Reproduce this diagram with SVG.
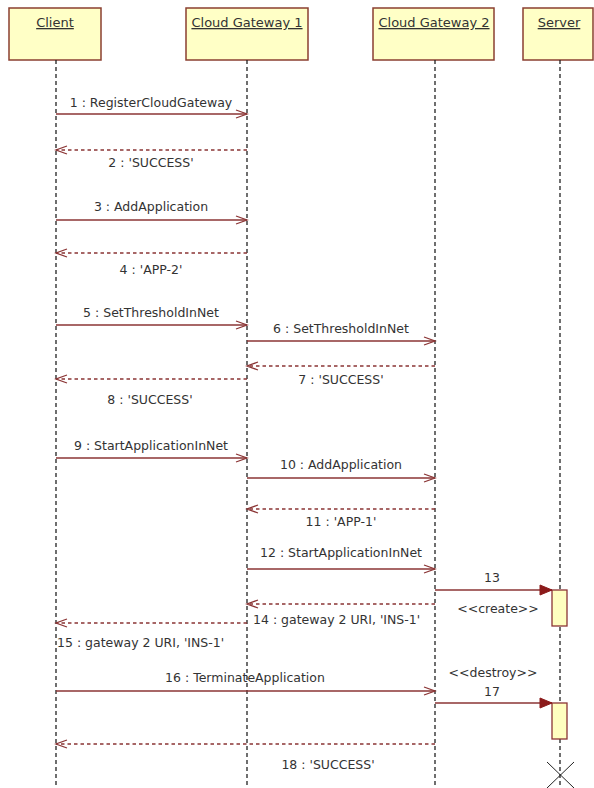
<svg xmlns="http://www.w3.org/2000/svg" width="594" height="788" viewBox="0 0 594 788">
<defs>
<style>
.hdr{fill:#ffffc6;stroke:#8a3f30;stroke-width:1.5}
.htxt{font-family:"DejaVu Sans","Liberation Sans",sans-serif;font-size:13px;fill:#333;text-anchor:middle;text-decoration:underline}
.life{stroke:#222;stroke-width:1.3;stroke-dasharray:4 3;fill:none}
.msg{stroke:#8b3535;stroke-width:1.3;fill:none}
.ret{stroke:#8b3535;stroke-width:1.3;fill:none;stroke-dasharray:3.5 3}
.lbl{font-family:"DejaVu Sans","Liberation Sans",sans-serif;font-size:12.5px;fill:#333;text-anchor:middle}
.st{text-anchor:start}
.act{fill:#ffffc0;stroke:#8b3535;stroke-width:1.3}
</style>
<marker id="open" markerWidth="14" markerHeight="12" refX="12" refY="5" orient="auto" markerUnits="userSpaceOnUse">
<path d="M1,1 L12,5 L1,9" fill="none" stroke="#8b3535" stroke-width="1.3"/>
</marker>
<marker id="filled" markerWidth="14" markerHeight="12" refX="13" refY="6" orient="auto" markerUnits="userSpaceOnUse">
<path d="M1,1 L13,6 L1,11 Z" fill="#8b1a1a" stroke="#8b1a1a" stroke-width="1"/>
</marker>
</defs>
<rect width="594" height="788" fill="#fff"/>

<g id="client">
<rect class="hdr" x="9" y="8" width="92" height="52"/>
<text class="htxt" x="55" y="27">Client</text>
<line class="life" x1="56" y1="60" x2="56" y2="788"/>
</g>
<g id="cg1">
<rect class="hdr" x="186" y="8" width="122" height="52"/>
<text class="htxt" x="247" y="27">Cloud Gateway 1</text>
<line class="life" x1="247" y1="60" x2="247" y2="788"/>
</g>
<g id="cg2">
<rect class="hdr" x="373" y="8" width="121" height="52"/>
<text class="htxt" x="434" y="27">Cloud Gateway 2</text>
<line class="life" x1="435" y1="60" x2="435" y2="788"/>
</g>
<g id="server">
<rect class="hdr" x="523" y="8" width="70" height="52"/>
<text class="htxt" x="559" y="27">Server</text>
<line class="life" x1="560" y1="60" x2="560" y2="788"/>
<rect class="act" x="552" y="590" width="15" height="36"/>
<rect class="act" x="552" y="703" width="15" height="36"/>
<path d="M547,762 L574,788 M574,762 L547,788" stroke="#222" stroke-width="1"/>
</g>

<g id="connectors">
<line class="msg" x1="56" y1="114" x2="247" y2="114" marker-end="url(#open)"/>
<line class="ret" x1="247" y1="150" x2="56" y2="150" marker-end="url(#open)"/>
<line class="msg" x1="56" y1="220" x2="247" y2="220" marker-end="url(#open)"/>
<line class="ret" x1="247" y1="253" x2="56" y2="253" marker-end="url(#open)"/>
<line class="msg" x1="56" y1="325" x2="247" y2="325" marker-end="url(#open)"/>
<line class="msg" x1="247" y1="341" x2="435" y2="341" marker-end="url(#open)"/>
<line class="ret" x1="435" y1="366" x2="247" y2="366" marker-end="url(#open)"/>
<line class="ret" x1="247" y1="379" x2="56" y2="379" marker-end="url(#open)"/>
<line class="msg" x1="56" y1="458" x2="247" y2="458" marker-end="url(#open)"/>
<line class="msg" x1="247" y1="478" x2="435" y2="478" marker-end="url(#open)"/>
<line class="ret" x1="435" y1="509" x2="247" y2="509" marker-end="url(#open)"/>
<line class="msg" x1="247" y1="569" x2="435" y2="569" marker-end="url(#open)"/>
<line class="msg" x1="435" y1="590" x2="552" y2="590" marker-end="url(#filled)"/>
<line class="ret" x1="435" y1="604" x2="247" y2="604" marker-end="url(#open)"/>
<line class="ret" x1="247" y1="623" x2="56" y2="623" marker-end="url(#open)"/>
<line class="msg" x1="56" y1="691" x2="435" y2="691" marker-end="url(#open)"/>
<line class="msg" x1="435" y1="703" x2="552" y2="703" marker-end="url(#filled)"/>
<line class="ret" x1="435" y1="744" x2="56" y2="744" marker-end="url(#open)"/>

<text class="lbl" x="151" y="107">1 : RegisterCloudGateway</text>
<text class="lbl" x="151" y="167">2 : 'SUCCESS'</text>
<text class="lbl" x="151" y="211">3 : AddApplication</text>
<text class="lbl" x="151" y="274">4 : 'APP-2'</text>
<text class="lbl" x="151" y="317">5 : SetThresholdInNet</text>
<text class="lbl" x="341" y="333">6 : SetThresholdInNet</text>
<text class="lbl" x="341" y="384">7 : 'SUCCESS'</text>
<text class="lbl" x="150" y="404">8 : 'SUCCESS'</text>
<text class="lbl" x="151" y="450">9 : StartApplicationInNet</text>
<text class="lbl" x="341" y="469">10 : AddApplication</text>
<text class="lbl" x="341" y="526">11 : 'APP-1'</text>
<text class="lbl" x="341" y="557">12 : StartApplicationInNet</text>
<text class="lbl" x="492" y="582">13</text>
<text class="lbl" x="498" y="613">&lt;&lt;create&gt;&gt;</text>
<text class="lbl st" x="253" y="624">14 : gateway 2 URI, 'INS-1'</text>
<text class="lbl st" x="57" y="647">15 : gateway 2 URI, 'INS-1'</text>
<text class="lbl" x="245" y="682">16 : TerminateApplication</text>
<text class="lbl" x="493" y="677">&lt;&lt;destroy&gt;&gt;</text>
<text class="lbl" x="492" y="696">17</text>
<text class="lbl" x="328" y="769">18 : 'SUCCESS'</text>
</g>
</svg>
